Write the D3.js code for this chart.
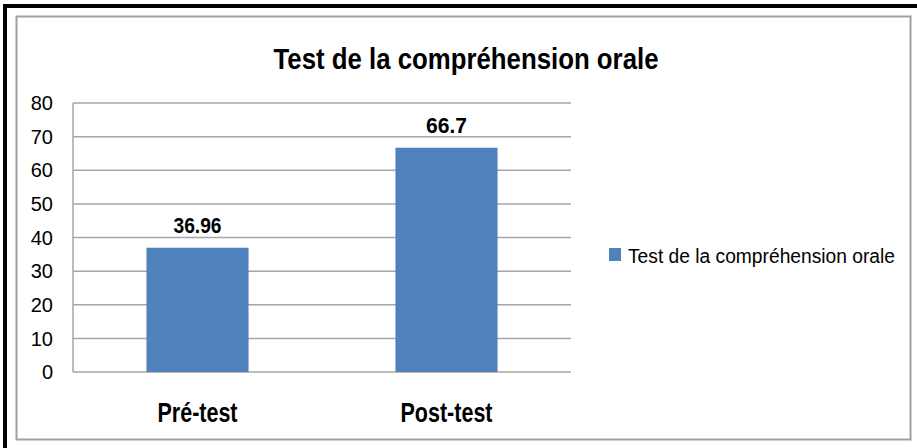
<!DOCTYPE html>
<html lang="en">
<head>
  <meta charset="UTF-8">
  <title>Test de la compréhension orale</title>
  <script src="https://d3js.org/d3.v7.min.js"></script>
  <style>
    body { margin: 0; background: white; font-family: "Liberation Sans", Arial, sans-serif; }
    svg { display: block; }
  </style>
</head>
<body>
<svg id="chart"></svg>
<script>
// data
const categories = ["Pré-test", "Post-test"];
const values = [36.96, 66.7];
const valueLabels = ["36.96", "66.7"];
const yTicks = [0, 10, 20, 30, 40, 50, 60, 70, 80];
const title = "Test de la compréhension orale";
const seriesName = "Test de la compréhension orale";

const width = 917, height = 448;
const svg = d3.select("#chart").attr("width", width).attr("height", height);

// frames
svg.append("rect").attr("width", width).attr("height", height).attr("fill", "white");
svg.append("rect") // black outer frame, cut off at right/bottom
  .attr("x", 5).attr("y", 6).attr("width", 930).attr("height", 460)
  .attr("fill", "none").attr("stroke", "black").attr("stroke-width", 4);
svg.append("rect") // chart area border
  .attr("x", 16.5).attr("y", 16.5).attr("width", 894).attr("height", 423)
  .attr("fill", "none").attr("stroke", "#a0a0a0").attr("stroke-width", 2);

// scales
const x = d3.scaleBand().domain(categories).range([73, 571])
  .paddingInner(0.59).paddingOuter(0.295);
const y = d3.scaleLinear().domain([0, 80]).range([372, 103]);

// gridlines
svg.append("g").selectAll("line").data(yTicks).join("line")
  .attr("x1", 73).attr("x2", 571)
  .attr("y1", d => y(d)).attr("y2", d => y(d))
  .attr("stroke", "#a6a6a6").attr("stroke-width", 1.5);
svg.append("line")
  .attr("x1", 73).attr("x2", 73).attr("y1", y(80)).attr("y2", y(0))
  .attr("stroke", "#a6a6a6").attr("stroke-width", 1.5);

// y tick labels
svg.append("g").selectAll("text").data(yTicks).join("text")
  .attr("x", 53).attr("y", d => y(d)).attr("dy", "0.36em")
  .attr("text-anchor", "end").attr("font-size", 20).attr("fill", "black")
  .text(d => d);

// bars
svg.append("g").selectAll("rect").data(values).join("rect")
  .attr("x", (d, i) => x(categories[i]))
  .attr("width", x.bandwidth())
  .attr("y", d => y(d))
  .attr("height", d => y(0) - y(d))
  .attr("fill", "#4f81bd");

// value labels
const labelWidths = [48, 41];
svg.append("g").selectAll("text").data(values).join("text")
  .attr("x", (d, i) => x(categories[i]) + x.bandwidth() / 2)
  .attr("y", d => y(d) - 15)
  .attr("text-anchor", "middle").attr("font-size", 22).attr("font-weight", "bold")
  .attr("textLength", (d, i) => labelWidths[i]).attr("lengthAdjust", "spacingAndGlyphs")
  .text((d, i) => valueLabels[i]);

// category labels
const catWidths = [80, 92];
svg.append("g").selectAll("text").data(categories).join("text")
  .attr("x", d => x(d) + x.bandwidth() / 2)
  .attr("y", 421.5)
  .attr("text-anchor", "middle").attr("font-size", 28).attr("font-weight", "bold")
  .attr("textLength", (d, i) => catWidths[i]).attr("lengthAdjust", "spacingAndGlyphs")
  .text(d => d);

// title
svg.append("text")
  .attr("x", 466).attr("y", 69)
  .attr("text-anchor", "middle").attr("font-size", 30).attr("font-weight", "bold")
  .attr("textLength", 385).attr("lengthAdjust", "spacingAndGlyphs")
  .text(title);

// legend
svg.append("rect").attr("x", 609).attr("y", 248).attr("width", 12).attr("height", 13)
  .attr("fill", "#4f81bd");
svg.append("text").attr("x", 628).attr("y", 263)
  .attr("font-size", 20).attr("textLength", 267).attr("lengthAdjust", "spacingAndGlyphs")
  .text(seriesName);
</script>
</body>
</html>
